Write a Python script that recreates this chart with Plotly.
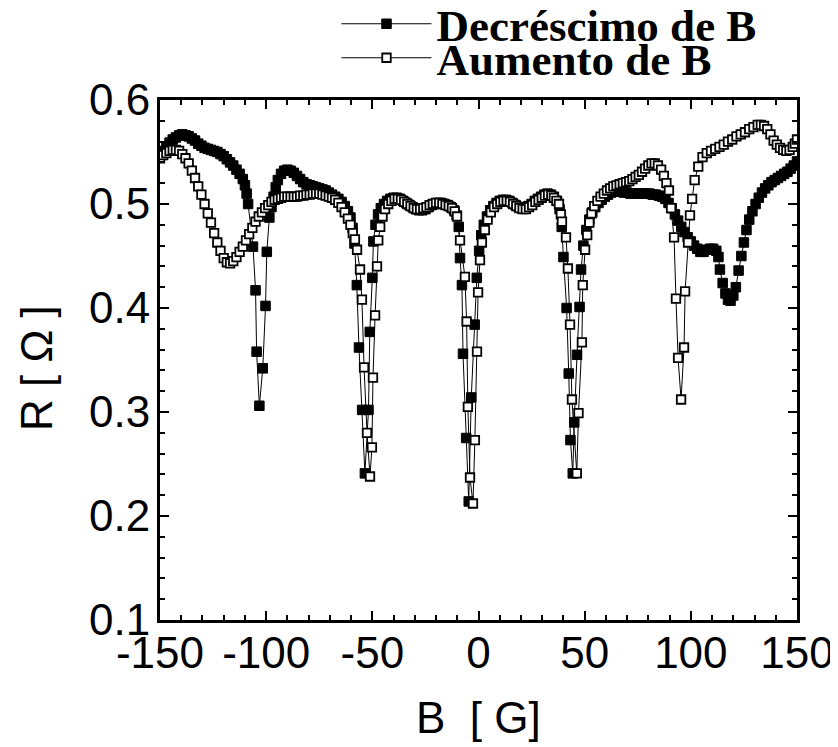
import plotly.graph_objects as go

# ---- data (B in gauss, R in ohm) ----
dec_points = [  # "Decréscimo de B" (filled squares)
    (-150,0.546),(-148.5,0.551),(-147,0.555),(-145.5,0.559),(-144,0.562),(-142.5,0.564),(-141,0.566),
    (-139.5,0.567),(-138,0.566),(-136.5,0.565),(-135,0.563),(-133.5,0.561),(-132,0.558),(-130.5,0.556),
    (-129,0.554),(-127.5,0.553),(-126,0.552),(-124.5,0.551),(-123,0.55),(-121.5,0.548),(-120,0.546),
    (-118.5,0.543),(-117,0.54),(-115.5,0.537),(-114,0.533),(-112.5,0.529),(-111,0.524),(-110,0.518),
    (-109.2,0.51),(-108.5,0.5),
    (-106.2,0.459),(-105,0.417),(-104.5,0.358),(-103.2,0.306),(-101.6,0.342),(-100.3,0.402),(-99.7,0.454),
    (-98.5,0.487),(-97.5,0.497),
    (-96.5,0.507),(-95.5,0.516),(-94.5,0.523),(-93,0.529),(-91.5,0.532),(-90,0.533),(-88.5,0.532),
    (-87,0.53),(-85.5,0.527),(-84,0.524),(-82.5,0.521),(-81,0.519),(-79.5,0.518),(-78,0.517),(-76.5,0.516),
    (-75,0.515),(-73.5,0.514),(-72,0.513),(-70.5,0.511),(-69,0.509),(-67.5,0.507),(-66,0.505),(-64.5,0.502),
    (-63,0.498),(-61.5,0.493),(-60.3,0.487),(-59.3,0.477),(-58.4,0.462),
    (-57.3,0.422),(-56.3,0.362),(-54.8,0.302),(-53.5,0.241),(-51.8,0.302),(-51.2,0.377),(-50,0.429),
    (-49.5,0.464),(-48.5,0.48),(-47.3,0.49),
    (-46,0.496),(-44.5,0.5),(-43,0.503),(-41.5,0.505),(-40,0.506),(-38.5,0.506),(-37,0.505),(-35.5,0.503),
    (-34,0.501),(-32.5,0.499),(-31,0.497),(-29.5,0.495),(-28,0.494),(-26.5,0.494),(-25,0.495),(-23.5,0.497),
    (-22,0.499),(-20.5,0.5),(-19,0.501),(-17.5,0.501),(-16,0.5),(-14.5,0.499),(-13,0.497),(-11.5,0.494),
    (-10.3,0.489),(-9.3,0.478),(-8.7,0.448),
    (-7.8,0.422),(-7.3,0.356),(-5.8,0.275),(-4.6,0.214),(-3.4,0.314),(-1.8,0.384),(-0.8,0.429),(0.3,0.455),
    (1.3,0.47),
    (2.5,0.48),(4,0.488),(5.5,0.494),(7,0.498),(8.5,0.501),(10,0.503),(11.5,0.504),(13,0.504),(14.5,0.503),
    (16,0.501),(17.5,0.499),(19,0.497),(20.5,0.496),(22,0.496),(23.5,0.498),(25,0.5),(26.5,0.503),(28,0.505),
    (29.5,0.507),(31,0.509),(32.5,0.51),(34,0.509),(35.5,0.507),(37,0.503),(38.2,0.495),(39.2,0.478),
    (40,0.449),(41.5,0.4),(42.5,0.337),(43.3,0.273),(44.4,0.241),(45.1,0.29),(46.4,0.355),(47.6,0.401),
    (48.3,0.437),(49.4,0.46),(50.8,0.475),
    (52.2,0.485),(53.6,0.492),(55,0.497),(56.5,0.501),(58,0.504),(59.5,0.507),(61,0.509),(62.5,0.511),
    (64,0.512),(65.5,0.512),(67,0.512),(68.5,0.511),(70,0.511),(71.5,0.51),(73,0.51),(74.5,0.51),(76,0.51),
    (77.5,0.51),(79,0.51),(80.5,0.51),(82,0.509),(83.5,0.509),(85,0.508),(86.5,0.507),(88,0.505),
    (89.5,0.501),(91,0.496),(92.5,0.49),(94,0.484),(95.5,0.478),(97,0.473),(98.5,0.468),(100,0.464),
    (101.5,0.46),(103,0.457),(104.5,0.454),(106,0.454),(107.5,0.456),(109,0.457),(110.5,0.457),(112,0.455),
    (113,0.449),(113.7,0.437),(115,0.424),(116.3,0.414),(117.5,0.408),(118.7,0.407),(120,0.412),(121.2,0.42),
    (122.5,0.436),(123.8,0.45),(125,0.463),(126.2,0.475),(127.5,0.485),(129,0.493),(130.5,0.5),(132,0.506),
    (133.5,0.511),(135,0.515),(136.5,0.518),(138,0.521),(139.5,0.523),(141,0.525),(142.5,0.527),(144,0.529),
    (145.5,0.531),(147,0.534),(148.5,0.537),(150,0.541),
]

inc_points = [  # "Aumento de B" (open squares)
    (-150,0.544),(-148.5,0.547),(-147,0.549),(-145.5,0.551),(-144,0.552),(-142.5,0.552),(-141,0.551),
    (-139.5,0.548),(-138,0.544),(-136.5,0.539),(-135,0.532),(-133.5,0.525),(-132,0.517),(-130.5,0.509),
    (-129,0.5),(-127.5,0.491),(-126,0.482),(-124.5,0.472),(-123,0.463),(-121.5,0.455),(-120,0.448),
    (-118.5,0.444),(-117,0.443),(-115.5,0.445),(-114,0.449),(-112.5,0.454),(-111,0.459),(-109.5,0.465),
    (-108,0.471),(-106.5,0.477),(-105,0.483),(-103.5,0.488),(-102,0.492),(-100.5,0.496),(-99,0.499),
    (-97.5,0.502),(-96,0.504),(-94.5,0.505),(-93,0.506),(-91.5,0.507),(-90,0.507),(-88.5,0.507),(-87,0.507),
    (-85.5,0.507),(-84,0.508),(-82.5,0.508),(-81,0.509),(-79.5,0.509),(-78,0.51),(-76.5,0.51),(-75,0.51),
    (-73.5,0.509),(-72,0.508),(-70.5,0.507),(-69,0.506),(-67.5,0.504),(-66,0.501),(-64.5,0.497),(-63,0.492),
    (-61.5,0.486),(-60.3,0.48),(-59.2,0.472),
    (-58.2,0.466),(-57.2,0.456),(-55.8,0.437),(-54.9,0.408),(-53.9,0.343),(-52.5,0.28),(-51.1,0.238),
    (-50.2,0.266),(-49.7,0.333),(-48.7,0.393),(-47.8,0.44),(-47.2,0.465),(-46.3,0.478),(-45.2,0.488),
    (-44,0.495),(-42.5,0.5),(-41,0.503),(-39.5,0.505),(-38,0.505),(-36.5,0.504),(-35,0.502),(-33.5,0.5),
    (-32,0.498),(-30.5,0.496),(-29,0.495),(-27.5,0.495),(-26,0.496),(-24.5,0.497),(-23,0.499),(-21.5,0.5),
    (-20,0.501),(-18.5,0.501),(-17,0.5),(-15.5,0.499),(-14,0.498),(-12.5,0.496),(-11.2,0.493),(-10.1,0.488),
    (-8.7,0.465),
    (-6.4,0.43),(-5.6,0.387),(-5,0.305),(-4,0.237),(-2.6,0.212),(-1.7,0.273),(-0.7,0.358),(-0.2,0.415),
    (0.7,0.446),(1.6,0.463),(3,0.475),
    (4.3,0.485),(5.8,0.492),(7.3,0.497),(8.8,0.5),(10.3,0.502),(11.8,0.503),(13.3,0.503),(14.8,0.502),
    (16.3,0.5),(17.8,0.498),(19.3,0.496),(20.8,0.495),(22.3,0.495),(23.8,0.497),(25.3,0.499),(26.8,0.502),
    (28.3,0.504),(29.8,0.506),(31.3,0.508),(32.8,0.509),(34.3,0.508),(35.5,0.506),(36.7,0.503),(37.9,0.5),
    (38.8,0.49),(39.3,0.483),(41.2,0.468),(42.1,0.438),(43.1,0.384),(44,0.312),(46.3,0.241),(47.1,0.299),
    (48.7,0.367),(49.1,0.422),(50.2,0.456),(51.2,0.47),(52.2,0.482),(53.2,0.491),
    (54.5,0.498),(56,0.503),(57.5,0.507),(59,0.51),(60.5,0.513),(62,0.515),(63.5,0.517),(65,0.518),
    (66.5,0.519),(68,0.52),(69.5,0.521),(71,0.522),(72.5,0.524),(74,0.526),(75.5,0.528),(77,0.531),
    (78.5,0.534),(80,0.537),(81.5,0.539),(83,0.539),(84.5,0.537),(86,0.533),(87.3,0.527),(88.5,0.52),
    (89.7,0.513),(90.7,0.496),(92.1,0.468),(93,0.409),(94,0.352),(95.4,0.312),(96.8,0.362),(97.3,0.416),
    (98.7,0.463),(99.6,0.489),(100.6,0.505),(101.8,0.523),(103.5,0.536),(105.5,0.545),(107.5,0.549),
    (109.5,0.551),(111.5,0.553),(113.5,0.555),(115.5,0.557),(117.5,0.56),(119.5,0.562),(121.5,0.565),
    (123.5,0.567),(125.5,0.569),(127.5,0.572),(129.5,0.574),(131.5,0.576),(133,0.576),(134.5,0.575),
    (136,0.572),(137.5,0.567),(139,0.561),(140.5,0.557),(142,0.554),(143.5,0.552),(145,0.551),
    (146.5,0.552),(148,0.555),(149,0.558),(150,0.562),
]

x_tickvals = [-150, -100, -50, 0, 50, 100, 150]
x_ticktext = ["-150", "-100", "-50", "0", "50", "100", "150"]
y_tickvals = [0.1, 0.2, 0.3, 0.4, 0.5, 0.6]
y_ticktext = ["0.1", "0.2", "0.3", "0.4", "0.5", "0.6"]
x_title = "B\u00a0\u00a0[ G]"
y_title = "R [ \u03a9 ]"

B_dec = [p[0] for p in dec_points]
R_dec = [p[1] for p in dec_points]
B_inc = [p[0] for p in inc_points]
R_inc = [p[1] for p in inc_points]

fig = go.Figure()
fig.add_trace(go.Scatter(
    x=B_dec, y=R_dec, mode="lines+markers", name="Decréscimo de B",
    line=dict(color="black", width=1),
    marker=dict(symbol="square", size=9.5, color="black", line=dict(color="black", width=1)),
    legend="legend",
))
fig.add_trace(go.Scatter(
    x=B_inc, y=R_inc, mode="lines+markers", name="Aumento de B",
    line=dict(color="black", width=1),
    marker=dict(symbol="square", size=8.5, color="white", line=dict(color="black", width=1.8)),
    legend="legend2",
))

axis_font = dict(family="Liberation Sans, Arial, sans-serif", size=44, color="black")
legend_font = dict(family="Liberation Serif, Times New Roman, serif", size=45, color="black", weight="bold")

# the page body adds an 8 px offset, so the figure is sized to fit the 838x747 window
W, H = 830, 739
ML, MR, MT, MB = 152, 41, 92, 127
PW, PH = W - ML - MR, H - MT - MB

fig.update_layout(
    width=W, height=H,
    margin=dict(l=ML, r=MR, t=MT, b=MB, autoexpand=False),
    paper_bgcolor="white", plot_bgcolor="white",
    showlegend=True,
    legend=dict(xref="container", yref="container", x=328.5 / W, xanchor="left",
                y=1 - 16 / H, yanchor="middle", font=legend_font,
                itemwidth=90, bgcolor="rgba(0,0,0,0)", borderwidth=0, tracegroupgap=0),
    legend2=dict(xref="container", yref="container", x=328.5 / W, xanchor="left",
                 y=1 - 50 / H, yanchor="middle", font=legend_font,
                 itemwidth=90, bgcolor="rgba(0,0,0,0)", borderwidth=0, tracegroupgap=0),
    xaxis=dict(
        range=[-150, 150], tickmode="array", tickvals=x_tickvals, ticktext=x_ticktext,
        showgrid=False, zeroline=False, showline=True, linewidth=3, linecolor="black",
        mirror="allticks", ticks="inside", ticklen=9, tickwidth=2, tickcolor="black",
        minor=dict(ticks="inside", ticklen=5, tickwidth=2, dtick=10, tickcolor="black", showgrid=False),
        tickfont=axis_font, ticklabelstandoff=-8, automargin=False,
    ),
    yaxis=dict(
        range=[0.1, 0.6], tickmode="array", tickvals=y_tickvals, ticktext=y_ticktext,
        showgrid=False, zeroline=False, showline=True, linewidth=3, linecolor="black",
        mirror="allticks", ticks="inside", ticklen=9, tickwidth=2, tickcolor="black",
        minor=dict(ticks="inside", ticklen=5, tickwidth=2, dtick=0.02, tickcolor="black", showgrid=False),
        tickfont=axis_font, ticklabelstandoff=-2, automargin=False,
    ),
    annotations=[
        dict(text=x_title, xref="paper", yref="paper", x=0.5, y=-(709 - (MT + PH)) / PH,
             xanchor="center", yanchor="middle", showarrow=False, font=axis_font),
        dict(text=y_title, xref="paper", yref="paper", x=(28 - ML) / PW, y=(MT + PH - 360) / PH,
             xanchor="center", yanchor="middle", showarrow=False, font=axis_font, textangle=-90),
    ],
)

fig.write_html("out.html")
